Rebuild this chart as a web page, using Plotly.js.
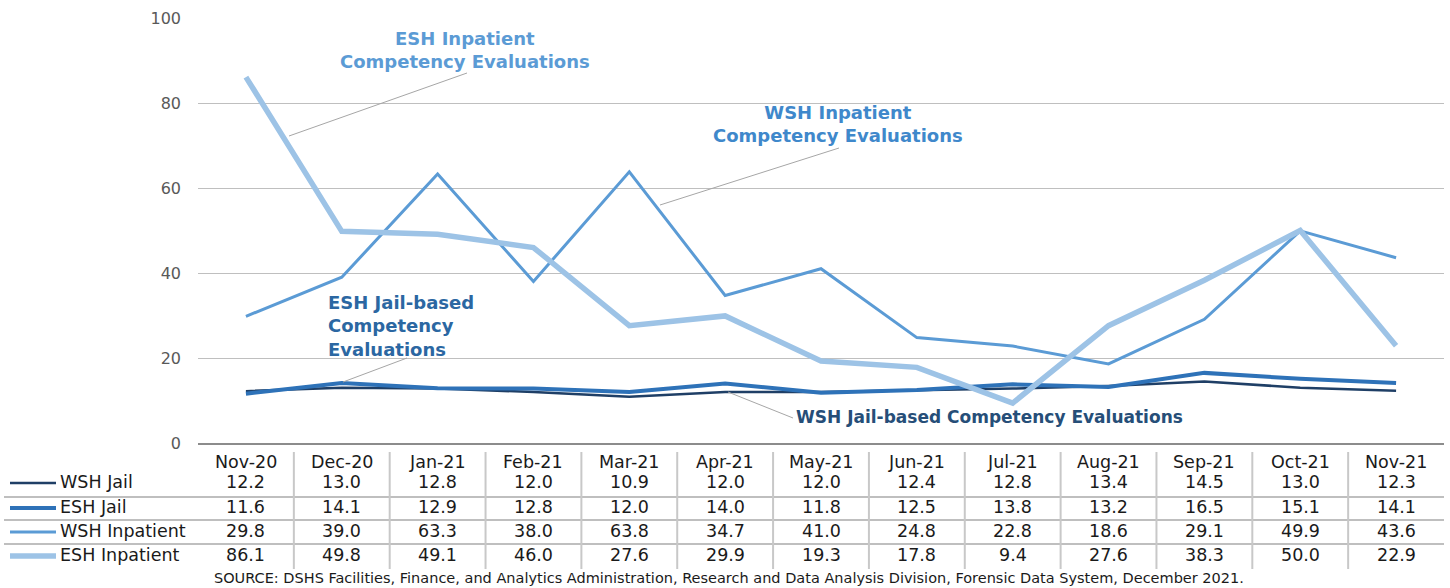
<!DOCTYPE html>
<html><head><meta charset="utf-8">
<script src="https://cdn.plot.ly/plotly-3.0.1.min.js"></script>
<style>html,body{margin:0;padding:0;background:#fff}#chart{width:1450px;height:588px}</style>
</head><body><div id="chart"></div>
<script>
const categories = ["Nov-20","Dec-20","Jan-21","Feb-21","Mar-21","Apr-21","May-21","Jun-21","Jul-21","Aug-21","Sep-21","Oct-21","Nov-21"];
const seriesNames = ["WSH Jail","ESH Jail","WSH Inpatient","ESH Inpatient"];
const wshJail = [12.2,13.0,12.8,12.0,10.9,12.0,12.0,12.4,12.8,13.4,14.5,13.0,12.3];
const eshJail = [11.6,14.1,12.9,12.8,12.0,14.0,11.8,12.5,13.8,13.2,16.5,15.1,14.1];
const wshInpatient = [29.8,39.0,63.3,38.0,63.8,34.7,41.0,24.8,22.8,18.6,29.1,49.9,43.6];
const eshInpatient = [86.1,49.8,49.1,46.0,27.6,29.9,19.3,17.8,9.4,27.6,38.3,50.0,22.9];
const yTicks = [0,20,40,60,80,100];
const sourceText = "SOURCE: DSHS Facilities, Finance, and Analytics Administration, Research and Data Analysis Division, Forensic Data System, December 2021.";

const seriesValues = [wshJail, eshJail, wshInpatient, eshInpatient];
const colors = ["#1F3F66","#2E72B8","#5B9BD5","#9DC3E6"];
const widths = [2.5,4,3,5.5];

const W = 1450, H = 588, L = 198, R = 6, T = 18, B = 145;
const pw = W - L - R, ph = H - T - B;
const px = x => (x - L) / pw;
const py = y => (H - B - y) / ph;

const FONT = "DejaVu Sans";
const traces = seriesValues.map((v, k) => ({
  type: "scatter", mode: "lines", x: categories, y: v, name: seriesNames[k],
  line: {color: colors[k], width: widths[k]}, hoverinfo: "skip"
}));

const annotations = [];
const shapes = [];
// header
categories.forEach(c => annotations.push({x: c, xref: "x", y: py(462), yref: "paper", text: c, showarrow: false,
  font: {family: FONT, size: 17.5, color: "#1a1a1a"}, xanchor: "center", yanchor: "middle"}));
const rowY = [482, 507, 531, 555];
seriesValues.forEach((vals, r) => {
  vals.forEach((v, i) => annotations.push({x: categories[i], xref: "x", y: py(rowY[r]), yref: "paper",
    text: v.toFixed(1), showarrow: false, font: {family: FONT, size: 17.5, color: "#1a1a1a"},
    xanchor: "center", yanchor: "middle"}));
  annotations.push({x: px(58), xref: "paper", y: py(rowY[r]), yref: "paper", text: seriesNames[r],
    showarrow: false, font: {family: FONT, size: 17.5, color: "#1a1a1a"}, xanchor: "left", yanchor: "middle"});
  shapes.push({type: "line", xref: "paper", yref: "paper", x0: px(10), x1: px(56), y0: py(rowY[r] + 1), y1: py(rowY[r] + 1),
    line: {color: colors[r], width: widths[r]}});
});
// table lines
[497, 520, 544].forEach(y => shapes.push({type: "line", xref: "paper", yref: "paper", x0: px(4), x1: px(1444),
  y0: py(y), y1: py(y), line: {color: "#BFBFBF", width: 2}}));
for (let k = 1; k < categories.length; k++) {
  const xb = L + k * pw / categories.length;
  shapes.push({type: "line", xref: "paper", yref: "paper", x0: px(xb), x1: px(xb), y0: py(452), y1: py(569),
    line: {color: "#C8C8C8", width: 2}});
}
annotations.push({x: px(729), xref: "paper", y: py(578), yref: "paper", text: sourceText, showarrow: false,
  font: {family: FONT, size: 14.5, color: "#1a1a1a"}, xanchor: "center", yanchor: "middle"});

// callouts
const callouts = [
  {text: "<b>ESH Inpatient<br>Competency Evaluations</b>", x: 465, y: 50, size: 18, color: "#5B9BD5", anchor: "center", line: [289,136,467,73]},
  {text: "<b>WSH Inpatient<br>Competency Evaluations</b>", x: 838, y: 124, size: 18, color: "#3F88CB", anchor: "center", line: [660,205,839,148]},
  {text: "<b>ESH Jail-based<br>Competency<br>Evaluations</b>", x: 326, y: 326, size: 18, color: "#2B67A2", anchor: "left", line: [343,382,407,358]},
  {text: "<b>WSH Jail-based Competency Evaluations</b>", x: 794, y: 417, size: 17, color: "#264E78", anchor: "left", line: [728,392,793,418]}
];
callouts.forEach(c => {
  annotations.push({x: px(c.x), xref: "paper", y: py(c.y), yref: "paper", text: c.text, showarrow: false,
    font: {family: FONT, size: c.size, color: c.color}, xanchor: c.anchor, yanchor: "middle", align: c.anchor});
  shapes.push({type: "line", xref: "paper", yref: "paper", x0: px(c.line[0]), y0: py(c.line[1]), x1: px(c.line[2]), y1: py(c.line[3]),
    line: {color: "#A6A6A6", width: 1}});
});

const layout = {
  width: W, height: H, margin: {l: L, r: R, t: T, b: B}, showlegend: false,
  paper_bgcolor: "#fff", plot_bgcolor: "#fff",
  xaxis: {type: "category", range: [-0.5, categories.length - 0.5], showticklabels: false, ticks: "",
    showgrid: false, showline: true, linecolor: "#8C8C8C", linewidth: 2, zeroline: false, fixedrange: true},
  yaxis: {range: [0, 100], tickvals: yTicks, showgrid: true, gridcolor: "#BFBFBF", gridwidth: 1,
    showline: false, zeroline: false, ticks: "", ticklabelstandoff: 16,
    tickfont: {family: FONT, size: 16, color: "#595959"}, fixedrange: true},
  annotations: annotations, shapes: shapes
};
Plotly.newPlot("chart", traces, layout, {displayModeBar: false, staticPlot: true});
</script></body></html>
